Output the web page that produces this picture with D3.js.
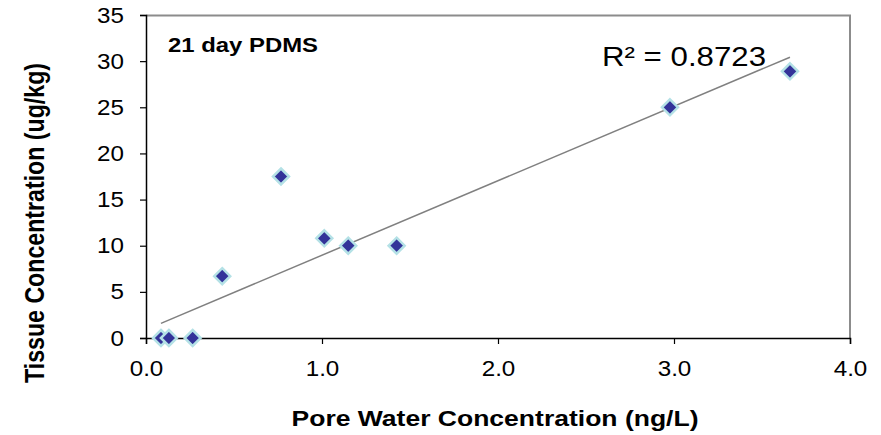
<!DOCTYPE html>
<html>
<head>
<meta charset="utf-8">
<script src="https://cdn.jsdelivr.net/npm/d3@7"></script>
<style>
  body { margin: 0; background: #fff; }
  text { font-family: "Liberation Sans", Arial, sans-serif; }
</style>
</head>
<body>
<svg class="chart"></svg>
<script>
'use strict';

// data
var poreWater = [0.085, 0.13, 0.265, 0.433, 0.767, 1.013, 1.149, 1.424, 2.977, 3.659];
var tissue    = [0, 0, 0, 6.7, 17.5, 10.8, 10.0, 10.0, 25.0, 28.9];
var xTicks = [0, 1, 2, 3, 4];
var yTicks = [0, 5, 10, 15, 20, 25, 30, 35];
// excel linear trendline
var trendSlope = 8.07, trendIntercept = 0.9;
var chartTitle = "21 day PDMS";
var rSquaredLabel = "R\u00b2 = 0.8723";

var W = 881, H = 435;
var margin = {top: 15, right: 31, bottom: 97, left: 146},
    width = W - margin.left - margin.right,
    height = H - margin.top - margin.bottom;

var svg = d3.select(".chart")
    .attr("width", W)
    .attr("height", H);

var g = svg.append("g")
    .attr("transform", "translate(" + margin.left + "," + margin.top + ")");

var x = d3.scaleLinear().domain([0, 4]).range([0, width]);
var y = d3.scaleLinear().domain([0, 35]).range([height, 0]);

// the source text is stretched sideways, so widen it to match
function stretch(sel, k) {
    sel.each(function() {
        var len = this.getComputedTextLength();
        d3.select(this).attr("textLength", len * k).attr("lengthAdjust", "spacingAndGlyphs");
    });
}

// gray frame on top and right
g.append("path")
    .attr("d", "M0,0.5H" + width + "V" + height)
    .attr("fill", "none")
    .attr("stroke", "#8c8c8c")
    .attr("stroke-width", 2);

// axes
var xAxis = g.append("g")
    .attr("transform", "translate(0," + height + ")")
    .call(d3.axisBottom(x).tickValues(xTicks).tickFormat(d3.format(".1f")).tickSize(6).tickPadding(16));
var yAxis = g.append("g")
    .call(d3.axisLeft(y).tickValues(yTicks).tickSize(6).tickPadding(16));

[xAxis, yAxis].forEach(function(a) {
    a.select(".domain").attr("stroke", "#000").attr("stroke-width", 1.5);
    a.selectAll(".tick line").attr("stroke", "#000").attr("stroke-width", 1.2);
    a.selectAll(".tick text")
        .attr("fill", "#000")
        .style("font-size", "22px")
        .style("font-family", "'Liberation Sans', Arial, sans-serif")
        .call(stretch, 1.1);
});

// trendline across the data range
var x0 = d3.min(poreWater), x1 = d3.max(poreWater);
g.append("line")
    .attr("x1", x(x0)).attr("y1", y(trendIntercept + trendSlope * x0))
    .attr("x2", x(x1)).attr("y2", y(trendIntercept + trendSlope * x1))
    .attr("stroke", "#808080")
    .attr("stroke-width", 1.5);

// diamond markers
var pts = poreWater.map(function(d, i) { return [d, tissue[i]]; });
g.selectAll("path.pt").data(pts).enter()
    .append("path")
    .attr("class", "pt")
    .attr("d", "M0,-8L8,0L0,8L-8,0Z")
    .attr("transform", function(d) { return "translate(" + x(d[0]) + "," + y(d[1]) + ")"; })
    .attr("fill", "#333399")
    .attr("stroke", "#b4e1e6")
    .attr("stroke-width", 2.5);

// labels in the plot
g.append("text")
    .attr("x", 22).attr("y", 37)
    .style("font-size", "21px")
    .style("font-weight", "bold")
    .text(chartTitle)
    .attr("textLength", 150).attr("lengthAdjust", "spacingAndGlyphs");

g.append("text")
    .attr("x", 456).attr("y", 51)
    .style("font-size", "27px")
    .text(rSquaredLabel)
    .attr("textLength", 164).attr("lengthAdjust", "spacingAndGlyphs");

// axis titles
svg.append("text")
    .attr("x", 495).attr("y", 426)
    .attr("text-anchor", "middle")
    .style("font-size", "22px")
    .style("font-weight", "bold")
    .text("Pore Water Concentration (ng/L)")
    .attr("textLength", 407).attr("lengthAdjust", "spacingAndGlyphs");

svg.append("text")
    .attr("transform", "translate(44,223) scale(1.2,1) rotate(-90)")
    .attr("text-anchor", "middle")
    .style("font-size", "23px")
    .style("font-weight", "bold")
    .text("Tissue Concentration (ug/kg)")
    .attr("textLength", 320).attr("lengthAdjust", "spacingAndGlyphs");
</script>
</body>
</html>
